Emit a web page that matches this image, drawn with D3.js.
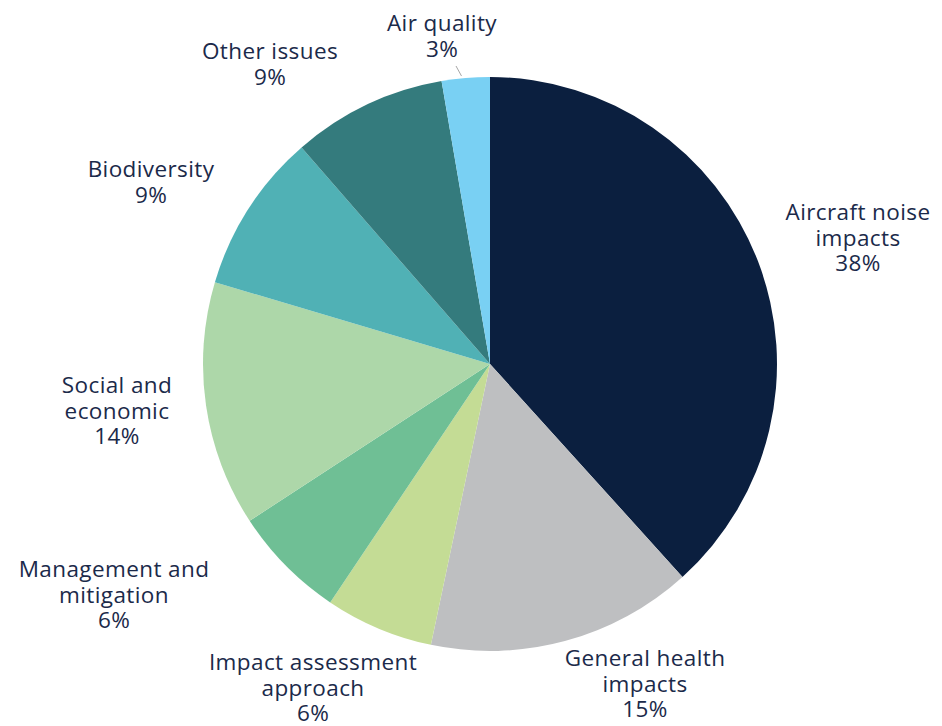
<!DOCTYPE html>
<html>
<head>
<meta charset="utf-8">
<script src="https://cdn.jsdelivr.net/npm/d3@7"></script>
<style>
  body { margin: 0; background: #fff; }
  text { font-family: "Open Sans", Lato, sans-serif; }
</style>
</head>
<body>
<script>
// data, clockwise from 12 o'clock
categories = ["Aircraft noise impacts", "General health impacts", "Impact assessment approach",
  "Management and mitigation", "Social and economic", "Biodiversity", "Other issues", "Air quality"]
values = [38.3, 15.0, 6.1, 6.4, 13.8, 9.0, 8.7, 2.7]
pctLabels = ["38%", "15%", "6%", "6%", "14%", "9%", "9%", "3%"]
labelLines = [["Aircraft noise", "impacts"], ["General health", "impacts"], ["Impact assessment", "approach"],
  ["Management and", "mitigation"], ["Social and", "economic"], ["Biodiversity"], ["Other issues"], ["Air quality"]]
colors = ["#0b1f3f", "#bebfc1", "#c4dc95", "#6fbf95", "#add7a9", "#50b1b5", "#347b7d", "#79d0f3"]

// label centres relative to pie centre
labelPos = [[368, -126], [155, 320], [-177, 324], [-376, 231], [-373, 47], [-339, -182], [-220, -300], [-48, -328]]

width = 942
height = 726
cx = 490
cy = 364
radius = 287
lineH = 25.5

data = categories.map((c, i) => ({name: c, value: values[i], pct: pctLabels[i], lines: labelLines[i]}))

pie = d3.pie().sort(null).value(d => d.value)
arc = d3.arc().innerRadius(0).outerRadius(radius)
arcs = pie(data)

const svg = d3.select("body").append("svg")
    .attr("width", width)
    .attr("height", height)

const g = svg.append("g").attr("transform", `translate(${cx},${cy})`)

g.append("g")
  .selectAll("path")
  .data(arcs)
  .join("path")
    .attr("d", arc)
    .attr("fill", (d, i) => colors[i])

// leader line for the small slice
const small = arcs[7]
const mid = (small.startAngle + small.endAngle) / 2
g.append("line")
    .attr("x1", Math.sin(mid) * (radius + 2) - 4)
    .attr("y1", -Math.cos(mid) * (radius + 2))
    .attr("x2", labelPos[7][0] + 14)
    .attr("y2", labelPos[7][1] + 30)
    .attr("stroke", "#a6a6a6")
    .attr("stroke-width", 1)

const labels = g.append("g")
  .selectAll("text")
  .data(arcs)
  .join("text")
    .attr("text-anchor", "middle")
    .attr("fill", "#1b2a4a")
    .attr("font-size", 22.5)
    .attr("letter-spacing", 0.4)

labels.each(function(d, i) {
  const lines = d.data.lines.concat([d.data.pct])
  const x = labelPos[i][0]
  const y0 = labelPos[i][1] - (lines.length - 1) * lineH / 2
  d3.select(this).selectAll("tspan")
    .data(lines)
    .join("tspan")
      .attr("x", x)
      .attr("y", (l, j) => y0 + j * lineH)
      .attr("dy", "0.35em")
      .text(l => l)
})
</script>
</body>
</html>
